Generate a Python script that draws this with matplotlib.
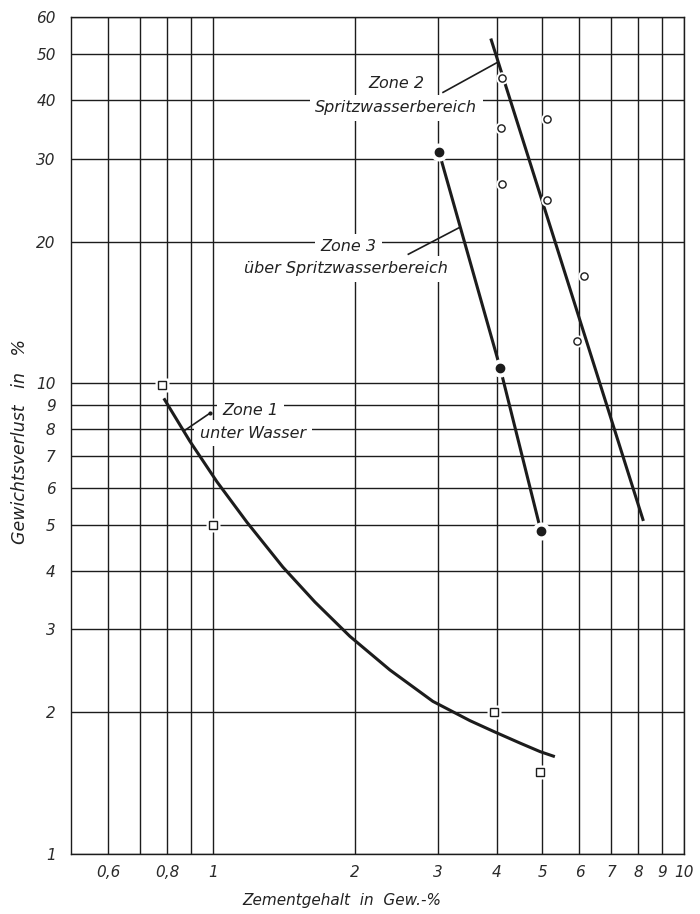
import matplotlib.pyplot as plt

# --- grid and tick values (log-log paper) ---
x_grid = [0.6, 0.7, 0.8, 0.9, 1, 2, 3, 4, 5, 6, 7, 8, 9, 10]
x_labels = ['0,6', '', '0,8', '', '1', '2', '3', '4', '5', '6', '7', '8', '9', '10']
y_grid = [1, 2, 3, 4, 5, 6, 7, 8, 9, 10, 20, 30, 40, 50, 60]
y_labels = ['1', '2', '3', '4', '5', '6', '7', '8', '9', '10', '20', '30', '40', '50', '60']

# --- Zone 1: unter Wasser (open squares + fitted curve) ---
zone1_x = [0.78, 1.0, 3.95, 4.95]
zone1_y = [9.9, 5.0, 2.0, 1.49]
zone1_curve_x = [0.787, 0.894, 1.02, 1.181, 1.408, 1.647, 1.954, 2.376, 2.931, 3.513,
                 3.95, 4.49, 4.95, 5.32]
zone1_curve_y = [9.29, 7.53, 6.18, 5.07, 4.07, 3.43, 2.90, 2.46, 2.11, 1.92,
                 1.82, 1.72, 1.65, 1.61]

# --- Zone 2: Spritzwasserbereich (open circles + straight fit) ---
zone2_x = [4.11, 4.09, 5.12, 4.11, 5.12, 6.13, 5.93]
zone2_y = [44.6, 34.8, 36.4, 26.5, 24.5, 16.9, 12.3]
zone2_fit_x = [3.89, 8.2]
zone2_fit_y = [54.0, 5.1]

# --- Zone 3: über Spritzwasserbereich (filled dots joined by a line) ---
zone3_x = [3.02, 4.07, 4.97]
zone3_y = [31.0, 10.8, 4.85]

INK = '#1c1c1c'
TEXT = '#222222'
plt.rcParams['font.family'] = ['DejaVu Sans']

fig = plt.figure(figsize=(7, 9.14), dpi=100)
ax = fig.add_axes([71 / 700, 60 / 914, 613 / 700, 837 / 914])
ax.set_xscale('log')
ax.set_yscale('log')
ax.set_xlim(0.5, 10)
ax.set_ylim(1, 60)

# grid lines drawn by hand so only the printed lines show up
ax.vlines(x_grid, 1, 60, colors=INK, lw=1.0, zorder=1)
ax.hlines(y_grid, 0.5, 10, colors=INK, lw=1.0, zorder=1)
for s in ax.spines.values():
    s.set_color(INK)
    s.set_linewidth(1.0)

ax.set_xticks(x_grid)
ax.set_xticklabels(x_labels)
ax.set_yticks(y_grid)
ax.set_yticklabels(y_labels)
ax.minorticks_off()
ax.tick_params(length=0, labelsize=11, colors='#2a2a2a')
ax.tick_params(axis='x', pad=8)
ax.tick_params(axis='y', pad=11)
for lab in ax.get_xticklabels() + ax.get_yticklabels():
    lab.set_fontstyle('italic')

# --- text blocks with white backing (grid lines stop around the lettering) ---
box = dict(boxstyle='square,pad=0.35', fc='white', ec='none')
txt = dict(ha='center', va='center', fontsize=11.5, style='italic', color=TEXT,
           bbox=box, zorder=3)

ax.text(2.45, 43.4, 'Zone 2', **txt)
ax.text(2.45, 38.5, 'Spritzwasserbereich', **txt)
ax.plot([3.08, 4.01], [41.5, 48.0], color=INK, lw=1.2, zorder=4)

ax.text(1.94, 19.5, 'Zone 3', **txt)
ax.text(1.92, 17.5, 'über Spritzwasserbereich', **txt)
ax.plot([2.60, 3.33], [18.8, 21.4], color=INK, lw=1.2, zorder=4)

ax.text(1.20, 8.76, 'Zone 1', **txt)
ax.text(1.217, 7.83, 'unter Wasser', **txt)
ax.plot([0.986, 0.873], [8.64, 7.95], color=INK, lw=1.2, zorder=4)
ax.plot([0.986], [8.64], 'o', color=INK, ms=2, zorder=4)

# --- Zone 1 ---
ax.plot(zone1_curve_x, zone1_curve_y, color=INK, lw=2.2, zorder=5,
        solid_capstyle='butt', solid_joinstyle='round')
ax.plot(zone1_x, zone1_y, 's', ms=10, mfc='white', mec='none', zorder=6)
ax.plot(zone1_x, zone1_y, 's', ms=5.2, mfc='white', mec=INK, mew=1.0, zorder=7)

# --- Zone 2 ---
ax.plot(zone2_fit_x, zone2_fit_y, color=INK, lw=2.2, zorder=5, solid_capstyle='butt')
ax.plot(zone2_x, zone2_y, 'o', ms=9, mfc='white', mec='none', zorder=6)
ax.plot(zone2_x, zone2_y, 'o', ms=5.2, mfc='white', mec=INK, mew=1.0, zorder=7)

# --- Zone 3: white halo leaves a gap in the line round each dot ---
ax.plot(zone3_x, zone3_y, color=INK, lw=2.2, zorder=5, solid_capstyle='butt')
ax.plot(zone3_x, zone3_y, 'o', ms=13, mfc='white', mec='none', zorder=6)
ax.plot(zone3_x, zone3_y, 'o', ms=6, mfc=INK, mec=INK, zorder=7)

# axis titles
fig.text(342 / 700, 1 - 900 / 914, 'Zementgehalt  in  Gew.-%', ha='center', va='center',
         fontsize=11, style='italic', color=TEXT)
fig.text(20 / 700, 1 - 441 / 914, 'Gewichtsverlust   in   %', ha='center', va='center',
         rotation=90, fontsize=12.5, style='italic', color=TEXT)

fig.savefig('out.png', dpi=100, facecolor='white')
